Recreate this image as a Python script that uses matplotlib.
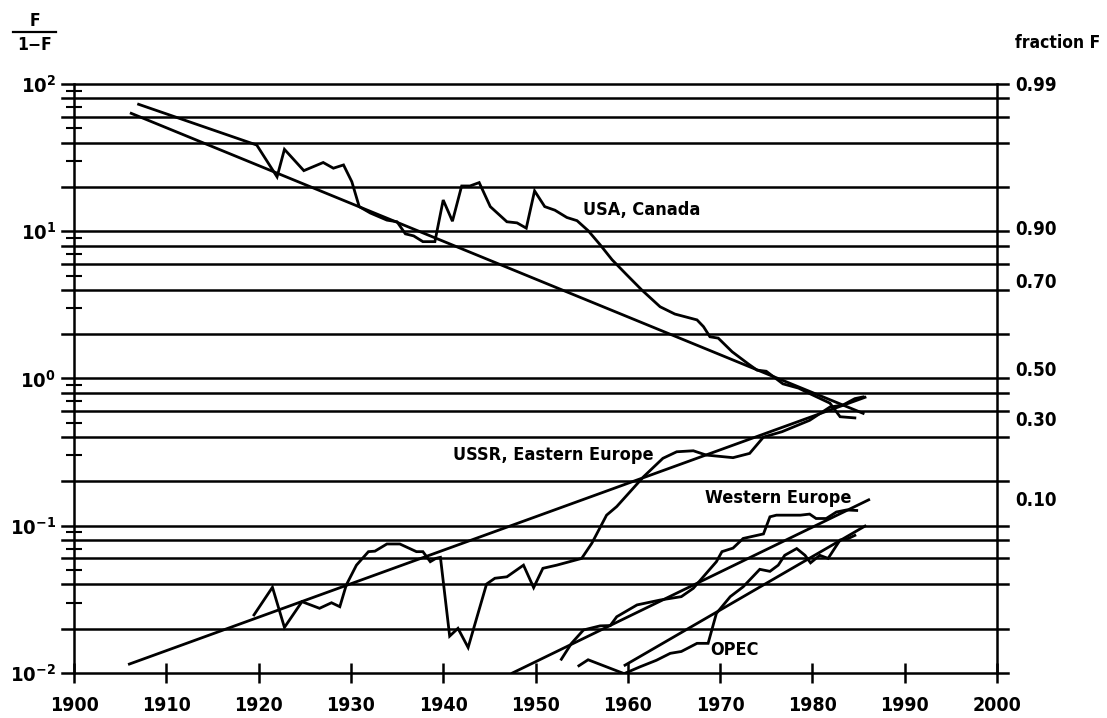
import numpy as np
import matplotlib
matplotlib.use('Agg')
import matplotlib.pyplot as plt
from matplotlib import font_manager as fm
from matplotlib.lines import Line2D
from matplotlib.ticker import FixedLocator, FuncFormatter, NullFormatter

# market share data (value = F / (1 - F))
usa_years = [1907.0, 1919.8, 1922.0, 1922.8, 1924.9, 1927.0, 1928.1, 1929.2, 1930.1, 1930.9,
             1932.1, 1933.9, 1935.0, 1935.9, 1936.8, 1937.8, 1939.1, 1940.0, 1941.0, 1942.0,
             1942.9, 1943.9, 1945.1, 1946.9, 1948.0, 1949.0, 1949.9, 1951.0, 1952.1, 1953.4,
             1954.5, 1955.7, 1957.0, 1958.3, 1959.9, 1961.5, 1963.5, 1965.1, 1967.5, 1968.2,
             1968.9, 1969.8, 1971.3, 1973.1, 1974.0, 1975.0, 1976.8, 1978.5, 1979.7, 1981.9,
             1983.0, 1984.6]
usa_vals = [72.8, 38.5, 23.4, 36.0, 25.8, 29.3, 26.8, 28.2, 21.7, 14.7,
            13.3, 11.9, 11.6, 9.6, 9.3, 8.5, 8.5, 16.3, 11.7, 20.3,
            20.3, 21.4, 14.7, 11.6, 11.4, 10.5, 18.8, 14.7, 13.9, 12.4,
            11.8, 10.1, 8.1, 6.4, 5.05, 4.0, 3.07, 2.74, 2.5, 2.25,
            1.92, 1.88, 1.52, 1.25, 1.14, 1.12, 0.92, 0.86, 0.79, 0.68,
            0.55, 0.54]

ussr_years = [1919.5, 1921.5, 1922.8, 1924.7, 1926.6, 1927.9, 1928.8, 1929.5, 1930.6, 1931.9,
              1932.6, 1933.9, 1935.3, 1937.1, 1937.8, 1938.6, 1939.2, 1939.7, 1940.7, 1941.6,
              1942.7, 1944.7, 1945.6, 1946.9, 1948.7, 1949.8, 1950.8, 1952.3, 1955.0, 1956.1,
              1957.7, 1958.8, 1961.7, 1963.8, 1965.3, 1967.1, 1968.5, 1971.4, 1973.2, 1974.7,
              1976.7, 1978.7, 1979.7, 1981.9, 1983.3, 1984.6, 1985.5]
ussr_vals = [0.0248, 0.0382, 0.0204, 0.0305, 0.0275, 0.030, 0.0282, 0.0396, 0.054, 0.0667,
             0.0672, 0.0752, 0.0752, 0.0667, 0.0667, 0.057, 0.060, 0.061, 0.0178, 0.0201,
             0.0149, 0.0402, 0.044, 0.045, 0.054, 0.038, 0.0514, 0.054, 0.060, 0.076,
             0.118, 0.135, 0.215, 0.287, 0.318, 0.323, 0.302, 0.29, 0.31, 0.40,
             0.435, 0.49, 0.52, 0.64, 0.66, 0.73, 0.75]

we_years = [1952.8, 1953.9, 1955.2, 1957.0, 1958.1, 1958.8, 1961.0, 1963.5, 1965.8, 1967.1,
            1968.5, 1969.6, 1970.2, 1971.4, 1972.5, 1974.7, 1975.4, 1976.1, 1978.7, 1979.7,
            1980.4, 1981.5, 1982.6, 1983.7, 1984.8]
we_vals = [0.0124, 0.0159, 0.0196, 0.0209, 0.021, 0.0241, 0.029, 0.0313, 0.033, 0.0376,
           0.0475, 0.057, 0.0667, 0.0705, 0.082, 0.088, 0.115, 0.118, 0.118, 0.12,
           0.112, 0.112, 0.124, 0.128, 0.127]

opec_years = [1954.7, 1955.7, 1959.6, 1961.3, 1963.1, 1964.6, 1965.8, 1967.5, 1968.7, 1969.6,
              1971.1, 1972.5, 1974.3, 1975.4, 1976.3, 1977.0, 1978.3, 1979.2, 1979.8, 1980.8,
              1981.7, 1983.0, 1983.9, 1984.6]
opec_vals = [0.0112, 0.0123, 0.0099, 0.011, 0.0122, 0.0136, 0.014, 0.0159, 0.0159, 0.0254,
             0.033, 0.0385, 0.0506, 0.049, 0.054, 0.063, 0.070, 0.063, 0.056, 0.063,
             0.060, 0.080, 0.082, 0.086]

# logistic fit lines (straight in this scale): start / end
usa_fit_years, usa_fit_vals = [1906.2, 1985.5], [63.2, 0.58]
ussr_fit_years, ussr_fit_vals = [1906.0, 1985.7], [0.0115, 0.745]
we_fit_years, we_fit_vals = [1947.5, 1986.1], [0.01, 0.15]
opec_fit_years, opec_fit_vals = [1959.7, 1985.7], [0.0113, 0.0995]

year_ticks = list(range(1900, 2001, 10))
frac_labels = ['0.99', '0.90', '0.70', '0.50', '0.30', '0.10', '0.01']
frac_pos = [100, 10.6, 4.6, 1.17, 0.535, 0.153, 0.0098]

# pick a condensed bold face if there is one, the scan uses a narrow grotesque
entries = fm.fontManager.ttflist
names = {f.name for f in entries}
stretch = 'normal'
if 'Liberation Sans Narrow' in names:
    family, narrow = 'Liberation Sans Narrow', True
elif 'DejaVu Sans Condensed' in names:
    family, narrow = 'DejaVu Sans Condensed', True
elif any(f.name == 'DejaVu Sans' and 'condensed' in str(f.stretch) for f in entries):
    family, narrow, stretch = 'DejaVu Sans', True, 'condensed'
else:
    family, narrow = 'Liberation Sans', False

plt.rcParams['font.family'] = [family, 'DejaVu Sans']
plt.rcParams['font.weight'] = 'bold'
plt.rcParams['font.stretch'] = stretch
plt.rcParams['mathtext.fontset'] = 'custom'
mt = family + ':bold' + (':stretch=condensed' if stretch == 'condensed' else '')
plt.rcParams['mathtext.rm'] = mt
plt.rcParams['mathtext.it'] = mt
plt.rcParams['mathtext.bf'] = mt

label_fs = 13
tick_fs = 14
ytick_fs = 14.5
frac_fs = 13.5
head_fs = 12.5

W, H = 1107, 718
fig = plt.figure(figsize=(W / 100, H / 100), dpi=100)
fig.patch.set_facecolor('white')
ax = fig.add_axes([74 / W, 1 - 673 / H, 923 / W, 589 / H])
ax.set_yscale('log')
ax.set_xlim(1900, 2000)
ax.set_ylim(0.01, 100)

lw = 1.8
# horizontal rulings at 1, 2, 4, 6, 8 x 10^k
grid_vals = [m * 10.0 ** k for k in range(-2, 2) for m in (1, 2, 4, 6, 8)] + [100.0]
for v in grid_vals:
    ax.axhline(v, xmin=-0.013, xmax=1.012, color='black', lw=lw, clip_on=False, zorder=1)

for x, y in [(usa_years, usa_vals), (ussr_years, ussr_vals), (we_years, we_vals),
             (opec_years, opec_vals), (usa_fit_years, usa_fit_vals),
             (ussr_fit_years, ussr_fit_vals), (we_fit_years, we_fit_vals),
             (opec_fit_years, opec_fit_vals)]:
    ax.plot(x, y, color='black', lw=2.0, solid_joinstyle='miter', zorder=3)

ax.text(1955.1, 13.9, 'USA, Canada', fontsize=label_fs, va='center', ha='left')
ax.text(1941.1, 0.302, 'USSR, Eastern Europe', fontsize=label_fs, va='center', ha='left')
ax.text(1968.4, 0.154, 'Western Europe', fontsize=label_fs, va='center', ha='left')
ax.text(1968.9, 0.0143, 'OPEC', fontsize=label_fs, va='center', ha='left')

for side in ['top', 'bottom']:
    ax.spines[side].set_visible(False)
for side in ['left', 'right']:
    ax.spines[side].set_linewidth(lw)

ax.set_xticks(year_ticks)
ax.set_xticklabels([str(y) for y in year_ticks], fontsize=tick_fs)
ax.tick_params(axis='x', direction='inout', length=15, width=lw, pad=9)

ax.yaxis.set_major_locator(FixedLocator([0.01, 0.1, 1, 10, 100]))
ax.yaxis.set_major_formatter(FuncFormatter(lambda v, p: r'$\mathregular{10^{%d}}$' % round(np.log10(v))))
minor = [m * 10.0 ** k for k in range(-2, 2) for m in (3, 5, 7, 9)]
ax.yaxis.set_minor_locator(FixedLocator(minor))
ax.yaxis.set_minor_formatter(NullFormatter())
ax.tick_params(axis='y', which='major', length=0, pad=13, labelsize=ytick_fs)
ax.tick_params(axis='y', which='minor', direction='inout', length=12, width=1.5,
               left=True, right=True)

sec = ax.twinx()
sec.set_yscale('log')
sec.set_ylim(ax.get_ylim())
sec.yaxis.set_major_locator(FixedLocator(frac_pos))
sec.set_yticklabels(frac_labels)
sec.yaxis.set_minor_locator(FixedLocator([]))
sec.tick_params(axis='y', length=0, pad=13, labelsize=frac_fs)
for s in sec.spines.values():
    s.set_visible(False)

# F / (1 - F) label in the top-left corner
fig.text(35 / W, 1 - 21 / H, 'F', fontsize=head_fs, ha='center', va='center')
fig.add_artist(Line2D([13 / W, 56 / W], [1 - 32 / H, 1 - 32 / H], color='black', lw=1.6))
fig.text(35 / W, 1 - 45 / H, '1\u2212F', fontsize=head_fs, ha='center', va='center')
fig.text(1100 / W, 1 - 43 / H, 'fraction F', fontsize=head_fs, ha='right', va='center')

fig.savefig('out.png', dpi=100, facecolor='white')
